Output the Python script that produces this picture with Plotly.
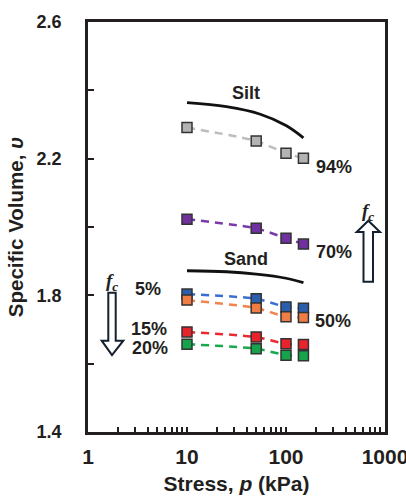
import plotly.graph_objects as go

# ---------------- data ----------------
stress = [10, 50, 100, 150]
v_94 = [2.291, 2.252, 2.216, 2.201]
v_70 = [2.023, 1.996, 1.967, 1.950]
v_5 = [1.804, 1.790, 1.766, 1.762]
v_50 = [1.786, 1.763, 1.737, 1.735]
v_15 = [1.693, 1.678, 1.658, 1.656]
v_20 = [1.657, 1.644, 1.625, 1.623]

silt_p = [10, 25, 55, 100, 150]
silt_v = [2.364, 2.352, 2.330, 2.297, 2.261]
sand_p = [10, 25, 50, 100, 150]
sand_v = [1.872, 1.869, 1.862, 1.850, 1.837]

x_ticks = [1, 10, 100, 1000]
x_tick_text = ["1", "10", "100", "1000"]
y_ticks = [1.4, 1.8, 2.2, 2.6]
y_tick_text = ["1.4", "1.8", "2.2", "2.6"]

# ---------------- layout helpers ----------------
W, H = 406, 496
PL, PT, PR, PB = 88, 22, 385, 432  # plot area in page pixels
L, T = PL, PT
PW, PH = PR - PL, PB - PT
R, B = W - L - PW, H - T - PH


def px(x):
    return (x - PL) / PW


def py(y):
    return 1 - (y - PT) / PH


FONT = "Liberation Sans, Arial, sans-serif"
DARK = "#231f20"

fig = go.Figure()

series = [
    (v_94, "#b3b3b3", "#bdbdbd"),
    (v_70, "#7030a0", "#7a3aa8"),
    (v_5, "#2b5fae", "#3a6fd0"),
    (v_50, "#f07d45", "#f0844f"),
    (v_15, "#e8232b", "#ea2a30"),
    (v_20, "#17a34a", "#1aa84f"),
]
for vals, mcol, lcol in series:
    fig.add_trace(go.Scatter(
        x=stress, y=vals, mode="lines",
        line=dict(color=lcol, width=2.5, dash="8px,6px", shape="spline", smoothing=0.6),
        hoverinfo="skip", showlegend=False))
    fig.add_trace(go.Scatter(
        x=stress, y=vals, mode="markers",
        marker=dict(symbol="square", size=10, color=mcol,
                    line=dict(color="#333333", width=1.5)),
        showlegend=False))

for cp, cv in [(silt_p, silt_v), (sand_p, sand_v)]:
    fig.add_trace(go.Scatter(
        x=cp, y=cv, mode="lines",
        line=dict(color="#111111", width=2.8, shape="spline"),
        showlegend=False))


def arrow_path(pts):
    return "M " + " L ".join(f"{px(x):.5f},{py(y):.5f}" for x, y in pts) + " Z"


down_arrow = [(108.3, 292.7), (115.7, 292.7), (115.7, 340.7), (123.3, 340.7),
              (112.0, 355.0), (101.7, 340.7), (108.3, 340.7)]
up_arrow = [(363.5, 281.7), (373.0, 281.7), (373.0, 232.0), (380.0, 232.0),
            (368.3, 220.7), (356.7, 232.0), (363.5, 232.0)]
for pts in (down_arrow, up_arrow):
    fig.add_shape(type="path", xref="paper", yref="paper", path=arrow_path(pts),
                  line=dict(color="#14202e", width=2), fillcolor="white")

labels = [
    ("Silt", 246, 93),
    ("Sand", 246, 259),
    ("94%", 334, 167),
    ("70%", 334, 251.5),
    ("50%", 333, 321),
    ("5%", 147.5, 289),
    ("15%", 148.5, 329),
    ("20%", 150, 347.5),
]
for txt, x, y in labels:
    fig.add_annotation(text=txt, xref="paper", yref="paper", x=px(x), y=py(y),
                       showarrow=False, xanchor="center", yanchor="middle",
                       font=dict(family=FONT, size=18, color=DARK, weight="bold"))

for x, y in [(111.5, 282), (368, 212)]:
    fig.add_annotation(text="<i>f</i><sub><i>c</i></sub>", xref="paper", yref="paper",
                       x=px(x), y=py(y), showarrow=False, xanchor="center", yanchor="middle",
                       font=dict(family="Liberation Serif, Times New Roman, serif", size=19, color=DARK))

fig.update_layout(
    width=W, height=H,
    margin=dict(l=L, r=R, t=T, b=B, pad=0, autoexpand=False),
    paper_bgcolor="white", plot_bgcolor="white",
    font=dict(family=FONT, size=18, color=DARK, weight="bold"),
    showlegend=False,
)
fig.update_xaxes(
    type="log", range=[0, 3], tickvals=x_ticks, ticktext=x_tick_text,
    ticks="inside", ticklen=5, tickwidth=1.5, tickcolor=DARK,
    minor=dict(ticks="inside", ticklen=5, tickwidth=1.5, tickcolor=DARK, dtick="D1", showgrid=False),
    showline=True, linewidth=2.5, linecolor=DARK, mirror=True,
    showgrid=False, zeroline=False, ticklabelstandoff=4, ticklabeloverflow="allow",
    tickfont=dict(family=FONT, size=21, color=DARK, weight="bold"),
    title=dict(text="Stress, <i>p</i> (kPa)", standoff=10,
               font=dict(family=FONT, size=21, color=DARK, weight="bold")),
)
fig.update_yaxes(
    range=[1.4, 2.6], tickvals=y_ticks, ticktext=y_tick_text,
    ticks="inside", ticklen=6, tickwidth=1.5, tickcolor=DARK,
    minor=dict(ticks="inside", ticklen=6, tickwidth=1.5, tickcolor=DARK, dtick=0.2, tick0=1.4, showgrid=False),
    showline=True, linewidth=2.5, linecolor=DARK, mirror=True,
    showgrid=False, zeroline=False, ticklabelstandoff=20,
    tickfont=dict(family=FONT, size=18, color=DARK, weight="bold"),
    title=dict(text="Specific Volume, <i>υ</i>", standoff=8,
               font=dict(family=FONT, size=20.5, color=DARK, weight="bold")),
)

fig.write_html(
    "out.html",
    config={"displayModeBar": False},
    post_script="document.body.style.margin='0px';document.body.style.overflow='hidden';",
)
